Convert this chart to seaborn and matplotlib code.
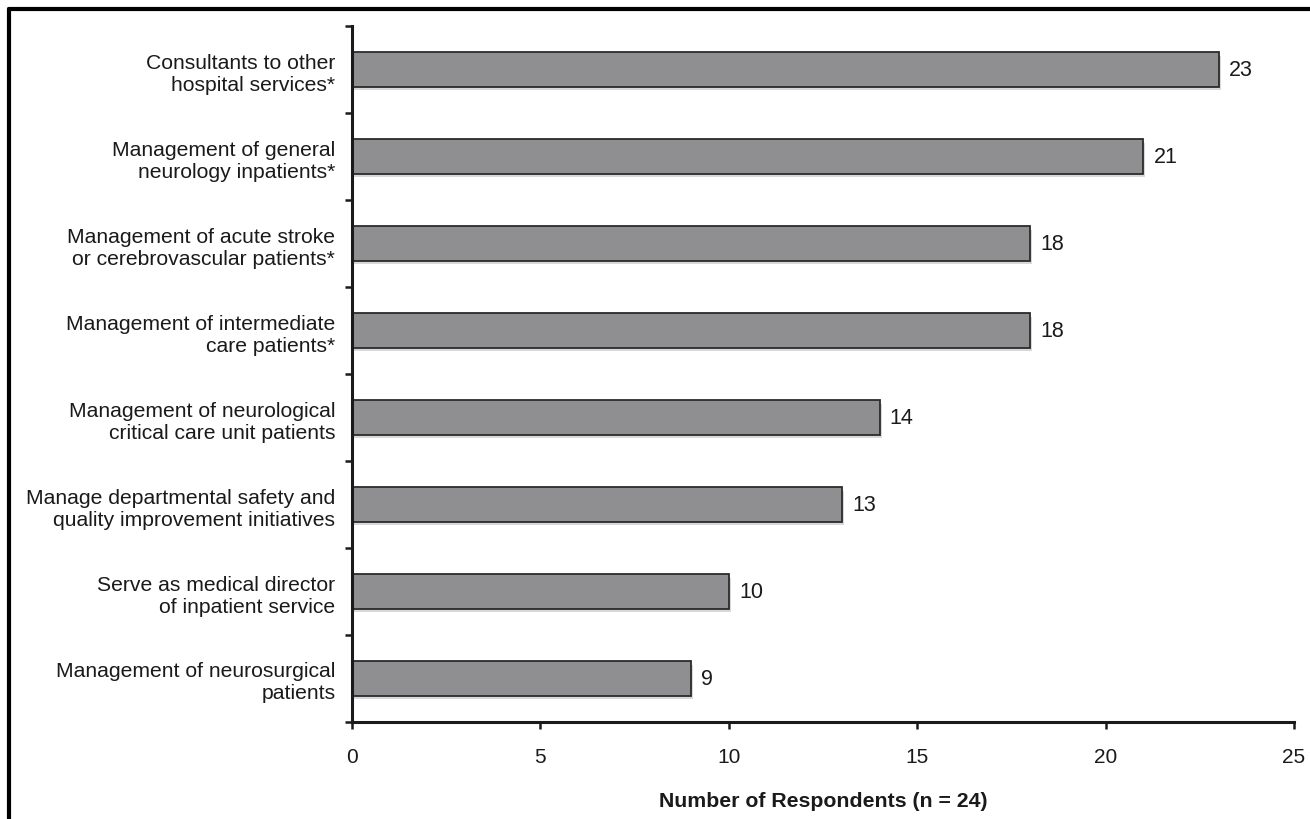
import matplotlib
matplotlib.use("Agg")
import matplotlib.pyplot as plt
import matplotlib.patheffects as pe
from matplotlib.lines import Line2D
import seaborn as sns
import pandas as pd
import numpy as np

categories = [
    "Consultants to other\nhospital services*",
    "Management of general\nneurology inpatients*",
    "Management of acute stroke\nor cerebrovascular patients*",
    "Management of intermediate\ncare patients*",
    "Management of neurological\ncritical care unit patients",
    "Manage departmental safety and\nquality improvement initiatives",
    "Serve as medical director\nof inpatient service",
    "Management of neurosurgical\npatients",
]
respondents = [23, 21, 18, 18, 14, 13, 10, 9]
x_ticks = [0, 5, 10, 15, 20, 25]
x_label = "Number of Respondents (n = 24)"

df = pd.DataFrame({"role": categories, "count": respondents})

sns.set_theme(style="white")
plt.rcParams["font.family"] = ["Liberation Sans", "DejaVu Sans"]

fig = plt.figure(figsize=(13.1, 8.2), dpi=100)
ax = fig.add_axes([0.2687, 0.1183, 0.7191, 0.8487])

sns.barplot(
    data=df, x="count", y="role", orient="h", ax=ax,
    color="#8f8f91", saturation=1, width=0.4,
    edgecolor="#2b2b2b", linewidth=1.3,
)

# soft drop shadow under each bar
for patch in ax.patches:
    patch.set_path_effects([
        pe.SimplePatchShadow(offset=(1.5, -2.5), shadow_rgbFace="#d8d8d8", alpha=1.0),
        pe.Normal(),
    ])

# value labels to the right of the bars
for i, v in enumerate(respondents):
    ax.text(v + 0.27, i, str(v), va="center", ha="left", fontsize=15.5, color="#1a1a1a")

ax.set_xlim(0, 25)
ax.set_ylim(len(categories) - 0.5, -0.5)
ax.set_xticks(x_ticks)
ax.set_xticklabels([str(t) for t in x_ticks])
ax.set_xlabel(x_label, fontsize=15.3, fontweight="bold", labelpad=18, color="#1a1a1a")
ax.set_ylabel("")

# category boundaries get the tick marks, labels sit at the bar centres
ax.set_yticks(np.arange(-0.5, len(categories) + 0.5, 1), minor=True)
ax.tick_params(axis="y", which="major", length=0, pad=12, labelsize=15.2, labelcolor="#1a1a1a")
ax.tick_params(axis="y", which="minor", left=True, length=5, width=1.8, color="#1a1a1a", direction="out")
ax.tick_params(axis="x", which="major", bottom=True, length=5, width=1.8, color="#1a1a1a",
               direction="out", pad=13, labelsize=15, labelcolor="#1a1a1a")
for lbl in ax.get_yticklabels():
    lbl.set_multialignment("right")

for side in ("top", "right"):
    ax.spines[side].set_visible(False)
for side in ("left", "bottom"):
    ax.spines[side].set_visible(True)
    ax.spines[side].set_color("#1a1a1a")
    ax.spines[side].set_linewidth(2.2)

# outer frame (left and top edges)
fig.add_artist(Line2D([0.0069, 0.0069], [0.0, 0.9878], transform=fig.transFigure, color="black", lw=3))
fig.add_artist(Line2D([0.0069, 1.0], [0.9878, 0.9878], transform=fig.transFigure, color="black", lw=3))

fig.savefig("out.png", dpi=100, facecolor="white")
